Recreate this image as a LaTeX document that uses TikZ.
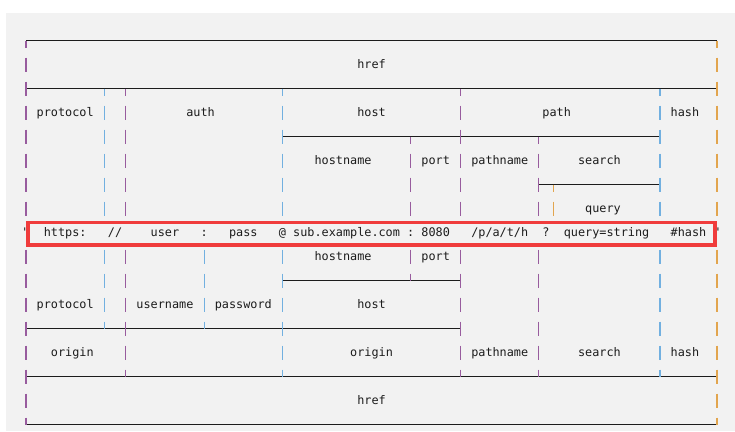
\documentclass[tikz,border=0pt]{standalone}
\usepackage{fontspec}
\setmonofont{DejaVu Sans Mono}
\definecolor{bggray}{HTML}{F2F2F2}
\definecolor{barpurple}{HTML}{985C9E}
\definecolor{barblue}{HTML}{72B0E0}
\definecolor{barorange}{HTML}{E2A54E}
\definecolor{boxred}{HTML}{F03C3C}
\definecolor{ink}{HTML}{1C1C1C}
\tikzset{part label/.style={anchor=base, inner sep=0, text=ink, font=\fontsize{11.83}{14}\selectfont\ttfamily},
  rule it/.style={draw=ink, line width=.9pt},
  bar it/.style={line width=1.1pt},
  url box/.style={draw=boxred, line width=3.7pt}}

\begin{document}
\begin{tikzpicture}[x=7.124pt, y=-24pt]
\useasboundingbox (-3.65,-1.692) rectangle (99.523,16.267);
\fill[bggray] (-2.807,-1.15) rectangle (99.523,16.267);

% rules
\draw[rule it] (0,0) -- (97,0);
\draw[rule it] (0,2) -- (97,2);
\draw[rule it] (36,4) -- (89,4);
\draw[rule it] (72,6) -- (89,6);
\draw[rule it] (36,10) -- (61,10);
\draw[rule it] (0,12) -- (61,12);
\draw[rule it] (0,14) -- (97,14);
\draw[rule it] (0,16) -- (97,16);

% bars
\foreach \c/\clr/\rows in {0/barpurple/{1,2,3,4,5,6,7,9,10,11,12,13,14,15},
    97/barorange/{1,2,3,4,5,6,7,9,10,11,12,13,14,15},
    11/barblue/{3,4,5,6,7,9,10,11}, 14/barpurple/{3,4,5,6,7,9,10,11,12,13}, 25/barblue/{9,10,11},
    36/barblue/{3,4,5,6,7,9,10,11,12,13}, 54/barpurple/{5,6,7,9}, 61/barpurple/{3,4,5,6,7,9,10,11,12,13},
    72/barpurple/{5,6,7,9,10,11,12,13}, 74/barorange/{7}, 89/barblue/{3,4,5,6,7,9,10,11,12,13}}
  \foreach \r in \rows \draw[bar it, \clr] (\c,\r-.29) -- (\c,\r+.29);
\foreach \c/\r/\clr in {0/0/barpurple, 97/0/barorange, 11/2/barblue, 14/2/barpurple, 36/2/barblue,
    61/2/barpurple, 89/2/barblue, 54/4/barpurple, 72/4/barpurple, 74/6/barorange}
  \draw[bar it, \clr] (\c,\r) -- (\c,\r+.29);
\foreach \c/\r/\clr in {0/16/barpurple, 97/16/barorange, 11/12/barblue, 25/12/barblue, 14/14/barpurple,
    36/14/barblue, 61/14/barpurple, 72/14/barpurple, 89/14/barblue, 54/10/barpurple}
  \draw[bar it, \clr] (\c,\r-.29) -- (\c,\r);

% upper labels
\node[part label] (href1) at (48.5,1.15) {href};
\node[part label] (protocol1) at (5.5,3.15) {protocol};
\node[part label] (auth) at (24.5,3.15) {auth};
\node[part label] (host1) at (48.5,3.15) {host};
\node[part label] (path) at (74.5,3.15) {path};
\node[part label] (hash1) at (92.5,3.15) {hash};
\node[part label] (hostname1) at (44.5,5.15) {hostname};
\node[part label] (port1) at (57.5,5.15) {port};
\node[part label] (pathname1) at (66.5,5.15) {pathname};
\node[part label] (search1) at (80.5,5.15) {search};
\node[part label] (query) at (81,7.15) {query};

% the url
\node[part label] (qopen) at (0,8.15) {"};
\node[part label] (scheme) at (5.5,8.15) {https:};
\node[part label] (slashes) at (12.5,8.15) {//};
\node[part label] (user) at (19.5,8.15) {user};
\node[part label] (colon1) at (25,8.15) {:};
\node[part label] (pass) at (30.5,8.15) {pass};
\node[part label] (at) at (36,8.15) {@};
\node[part label] (domain) at (45,8.15) {sub.example.com};
\node[part label] (colon2) at (54,8.15) {:};
\node[part label] (portnum) at (57.5,8.15) {8080};
\node[part label] (pathstr) at (66.5,8.15) {/p/a/t/h};
\node[part label] (qmark) at (73,8.15) {?};
\node[part label] (qstring) at (81.5,8.15) {query=string};
\node[part label] (fragment) at (93,8.15) {\#hash};
\node[part label] (qclose) at (97,8.15) {"};
\draw[url box] (0.31,7.58) rectangle (96.69,8.51);

% lower labels
\node[part label] (hostname2) at (44.5,9.15) {hostname};
\node[part label] (port2) at (57.5,9.15) {port};
\node[part label] (protocol2) at (5.5,11.15) {protocol};
\node[part label] (username) at (19.5,11.15) {username};
\node[part label] (password) at (30.5,11.15) {password};
\node[part label] (host2) at (48.5,11.15) {host};
\node[part label] (origin1) at (6.5,13.15) {origin};
\node[part label] (origin2) at (48.5,13.15) {origin};
\node[part label] (pathname2) at (66.5,13.15) {pathname};
\node[part label] (search2) at (80.5,13.15) {search};
\node[part label] (hash2) at (92.5,13.15) {hash};
\node[part label] (href2) at (48.5,15.15) {href};

\end{tikzpicture}
\end{document}
